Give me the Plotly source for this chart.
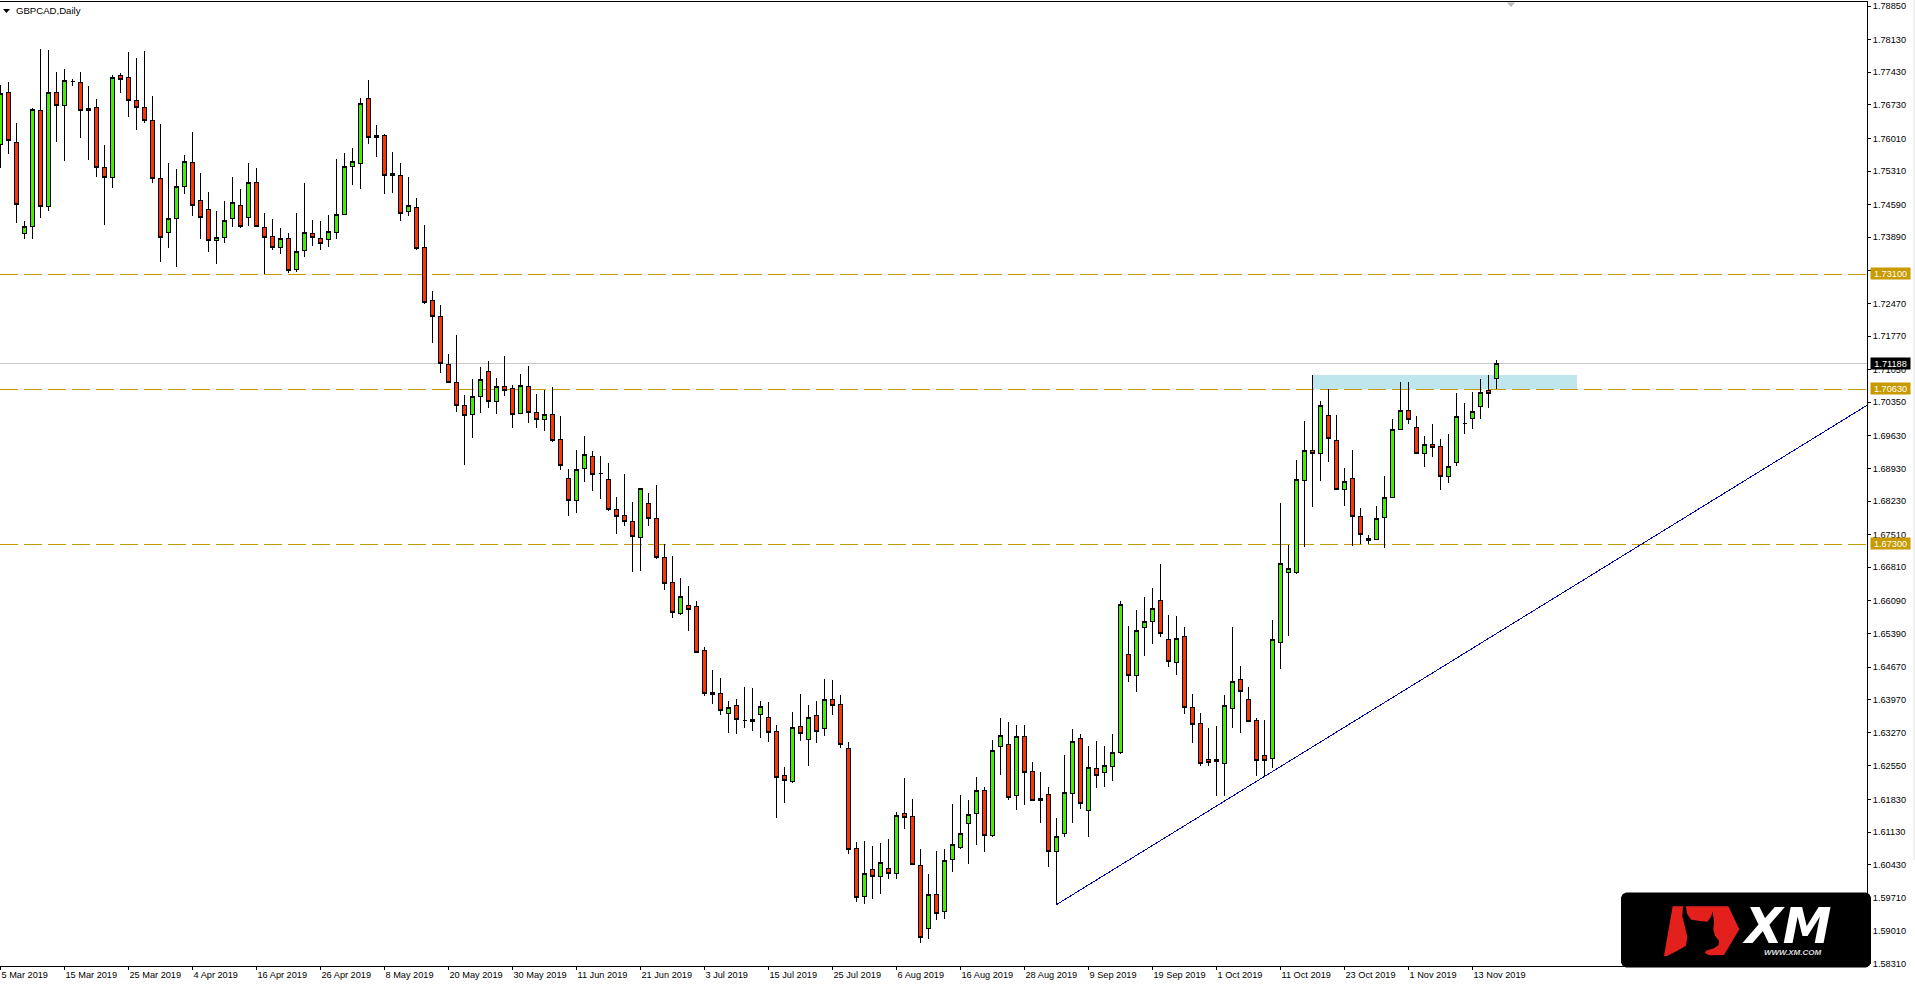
import plotly.graph_objects as go

open_ = [1.75883,1.76998,1.75926,1.73974,1.74124,1.76612,1.74553,1.76998,1.76720,1.77220,1.77213,1.76612,1.76677,1.75390,1.75175,1.77363,1.77320,1.76827,1.76677,1.76398,
1.75154,1.73995,1.74296,1.74982,1.75497,1.74682,1.74489,1.73824,1.73888,1.74296,1.74575,1.74317,1.75068,1.74103,1.73910,1.73674,1.73867,1.73202,1.73609,1.73974,
1.73867,1.73845,1.73995,1.74382,1.75411,1.75475,1.76870,1.76026,1.76076,1.75261,1.75218,1.74446,1.74532,1.73674,1.72537,1.72194,1.71164,1.70778,1.70285,1.70092,
1.70478,1.71014,1.70370,1.70692,1.70649,1.70113,1.70692,1.70134,1.69984,1.70092,1.69555,1.68719,1.68247,1.68933,1.69191,1.68819,1.68697,1.68054,1.67925,1.67796,
1.67453,1.68182,1.67861,1.67024,1.66488,1.65823,1.65995,1.65973,1.65015,1.64086,1.64107,1.63678,1.63850,1.63528,1.63506,1.63657,1.63592,1.63292,1.62348,1.62219,
1.63399,1.63120,1.63635,1.63356,1.63978,1.63871,1.62927,1.60782,1.59753,1.60332,1.60182,1.60353,1.60246,1.61533,1.61469,1.60418,1.59066,1.59796,1.59431,1.60546,
1.60804,1.61318,1.61533,1.62026,1.61061,1.62970,1.63013,1.61919,1.63185,1.62434,1.61812,1.61941,1.60718,1.61104,1.61962,1.63142,1.61597,1.62498,1.62412,1.62541,
1.62834,1.64944,1.64493,1.65523,1.65651,1.66102,1.65265,1.64772,1.65330,1.63807,1.63463,1.62691,1.62691,1.62605,1.63785,1.64407,1.63978,1.63528,1.62777,1.62713,
1.65201,1.66702,1.66702,1.68676,1.69319,1.69255,1.70070,1.69534,1.68483,1.68719,1.67904,1.67389,1.67410,1.67882,1.68311,1.69770,1.70177,1.69813,1.69255,1.69448,
1.69405,1.68762,1.69062,1.69884,1.70006,1.70263,1.70606,1.70864]
high = [1.77156,1.77213,1.76333,1.74239,1.76662,1.77921,1.77899,1.77435,1.77499,1.77277,1.77435,1.77127,1.76855,1.75862,1.77363,1.77406,1.77864,1.77728,1.77878,1.76913,
1.76312,1.75475,1.75347,1.75647,1.76140,1.75261,1.74853,1.74446,1.74660,1.75175,1.74918,1.75475,1.75368,1.74403,1.74274,1.74081,1.73974,1.74403,1.75046,1.74253,
1.74231,1.74360,1.75561,1.75690,1.75797,1.76870,1.77256,1.76291,1.76098,1.75711,1.75475,1.75175,1.74725,1.74146,1.72730,1.72430,1.71379,1.71786,1.70499,1.70842,
1.71100,1.71228,1.70864,1.71336,1.70714,1.70950,1.71121,1.70521,1.70613,1.70671,1.70049,1.68912,1.69319,1.69620,1.69298,1.69191,1.69040,1.68311,1.68805,1.68204,
1.68504,1.68397,1.68569,1.67303,1.67046,1.66574,1.66402,1.66080,1.65101,1.64607,1.64429,1.63935,1.63978,1.64236,1.64214,1.63935,1.63914,1.63421,1.62520,1.63699,
1.64086,1.63850,1.63935,1.64407,1.64386,1.64064,1.63056,1.60911,1.60932,1.60825,1.60889,1.60975,1.61554,1.62284,1.61833,1.60761,1.60225,1.60718,1.60761,1.61726,
1.61919,1.61812,1.62305,1.62091,1.63099,1.63571,1.63485,1.63421,1.63421,1.62627,1.62412,1.62091,1.61426,1.62777,1.63335,1.63228,1.62970,1.63077,1.62970,1.63228,
1.66080,1.65551,1.65887,1.66166,1.66359,1.66874,1.65780,1.65759,1.65523,1.64086,1.63678,1.63356,1.63399,1.64064,1.65523,1.64686,1.64236,1.63571,1.63528,1.65673,
1.68182,1.67282,1.69105,1.69941,1.70928,1.70370,1.70628,1.70070,1.68933,1.69319,1.68075,1.67496,1.68118,1.68762,1.69984,1.70778,1.70778,1.70049,1.69620,1.69877,
1.69555,1.69663,1.70542,1.70327,1.70563,1.70842,1.70928,1.71250]
low = [1.75383,1.75683,1.74203,1.73860,1.73860,1.74310,1.74460,1.75940,1.75533,1.77134,1.76026,1.75554,1.75189,1.74160,1.74954,1.76991,1.76462,1.76198,1.76348,1.75061,
1.73366,1.73667,1.73259,1.74818,1.74353,1.73860,1.73581,1.73323,1.73774,1.74117,1.74096,1.74138,1.74117,1.73095,1.73624,1.73538,1.73130,1.73152,1.73473,1.73709,
1.73624,1.73688,1.73860,1.74375,1.75011,1.74932,1.75897,1.75618,1.74825,1.74832,1.74246,1.74353,1.73624,1.72451,1.71614,1.70985,1.70778,1.70149,1.69012,1.69591,
1.70127,1.70235,1.70106,1.70492,1.69806,1.70113,1.69913,1.69806,1.69741,1.69505,1.68905,1.67918,1.67982,1.68647,1.68454,1.68283,1.68025,1.67532,1.67703,1.66717,
1.66738,1.67703,1.66981,1.66331,1.65730,1.65780,1.65451,1.64986,1.64057,1.63885,1.63635,1.63263,1.63242,1.63371,1.63306,1.63156,1.63070,1.61440,1.61762,1.62176,
1.63092,1.62555,1.63049,1.63199,1.63649,1.62942,1.60668,1.59624,1.59581,1.59688,1.59796,1.60117,1.60117,1.61204,1.60418,1.58744,1.58830,1.59238,1.59259,1.60267,
1.60761,1.60439,1.60847,1.60696,1.61018,1.62348,1.61812,1.61597,1.61705,1.61790,1.61318,1.60389,1.59574,1.61018,1.61333,1.61633,1.61032,1.62084,1.62105,1.62234,
1.62813,1.64357,1.64143,1.64915,1.65172,1.65322,1.64679,1.64507,1.63671,1.63049,1.62555,1.62555,1.61912,1.61912,1.63371,1.63263,1.63506,1.62341,1.62305,1.62513,
1.64636,1.65344,1.66674,1.67253,1.68111,1.68669,1.69076,1.68483,1.68132,1.67274,1.67303,1.67303,1.67389,1.67232,1.68311,1.69748,1.69877,1.69255,1.68969,1.69169,
1.68476,1.68626,1.68990,1.69677,1.69784,1.69999,1.70235,1.70628]
close = [1.76977,1.75969,1.74596,1.74117,1.76634,1.74553,1.76998,1.76720,1.77256,1.77220,1.76612,1.76655,1.75390,1.75175,1.77320,1.77277,1.76827,1.76677,1.76398,1.75154,
1.73888,1.74296,1.74982,1.75518,1.74575,1.74310,1.73824,1.73888,1.74253,1.74639,1.74117,1.75068,1.74124,1.73888,1.73674,1.73867,1.73180,1.73588,1.73995,1.73888,
1.73759,1.74017,1.74382,1.75411,1.75518,1.76762,1.76026,1.76076,1.75218,1.75218,1.74403,1.74575,1.73652,1.72494,1.72194,1.71185,1.70778,1.70285,1.70070,1.70478,
1.70842,1.70370,1.70692,1.70606,1.70092,1.70714,1.70134,1.69984,1.70092,1.69534,1.68998,1.68247,1.68912,1.69234,1.68805,1.68819,1.68054,1.67904,1.67796,1.67475,
1.68504,1.67861,1.67024,1.66466,1.65844,1.66188,1.65909,1.64986,1.64107,1.64128,1.63742,1.63807,1.63549,1.63528,1.63549,1.63828,1.63270,1.62305,1.62241,1.63378,
1.63249,1.63592,1.63292,1.63978,1.63850,1.63013,1.60761,1.59731,1.60246,1.60182,1.60482,1.60246,1.61490,1.61447,1.60439,1.58873,1.59796,1.59388,1.60525,1.60868,
1.61104,1.61512,1.62026,1.61061,1.62884,1.63206,1.61876,1.63185,1.62412,1.61812,1.61855,1.60718,1.61040,1.61983,1.63077,1.61747,1.62520,1.62348,1.62563,1.62841,
1.66016,1.64493,1.65458,1.65651,1.65930,1.65394,1.64793,1.65287,1.63807,1.63442,1.62605,1.62627,1.62648,1.63850,1.64364,1.64150,1.63506,1.62670,1.62670,1.65265,
1.66895,1.66788,1.68697,1.69319,1.69255,1.70285,1.69577,1.68483,1.68654,1.67904,1.67518,1.67432,1.67861,1.68311,1.69770,1.70177,1.69984,1.69255,1.69448,1.69384,
1.68762,1.68976,1.70049,1.69884,1.70156,1.70563,1.70542,1.71188]

date_labels = ["5 Mar 2019","15 Mar 2019","25 Mar 2019","4 Apr 2019","16 Apr 2019","26 Apr 2019","8 May 2019","20 May 2019",
               "30 May 2019","11 Jun 2019","21 Jun 2019","3 Jul 2019","15 Jul 2019","25 Jul 2019","6 Aug 2019","16 Aug 2019",
               "28 Aug 2019","9 Sep 2019","19 Sep 2019","1 Oct 2019","11 Oct 2019","23 Oct 2019","1 Nov 2019","13 Nov 2019"]
price_ticks = [1.78850,1.78130,1.77430,1.76730,1.76010,1.75310,1.74590,1.73890,1.73170,1.72470,1.71770,1.71050,1.70350,1.69630,1.68930,
               1.68230,1.67510,1.66810,1.66090,1.65390,1.64670,1.63970,1.63270,1.62550,1.61830,1.61130,1.60430,1.59710,1.59010,1.58310]
levels = [1.73100, 1.70630, 1.67300]
last_price = 1.71188
zone_bars = [164, 197]
zone_prices = [1.70630, 1.70928]
trend_bars = [132, 233.32]
trend_prices = [1.59574, 1.70285]

W, H = 1915, 986
L, R, T, B = 0, 1867, 2, 966
FONT = "Liberation Sans"
GOLD = "#C79A00"

def px(x):
    return x / R
def py(y):
    return 1 - (y - T) / (B - T)

price_per_px = (1.78850 - 1.58310) / (963.5 - 6)
ymax = 1.78850 + (6 - T) * price_per_px
ymin = 1.58310 - (B - 963.5) * price_per_px
xmin = -0.5 / 8
xmax = (R - 0.5) / 8

n = len(open_)
fig = go.Figure()
fig.add_trace(go.Candlestick(
    x=list(range(n)), open=open_, high=high, low=low, close=close,
    whiskerwidth=0,
    increasing=dict(fillcolor="#44EE00", line=dict(color="#000000", width=1)),
    decreasing=dict(fillcolor="#F83800", line=dict(color="#000000", width=1)),
    showlegend=False,
))
fig.add_trace(go.Scatter(x=trend_bars, y=trend_prices, mode="lines",
                         line=dict(color="#0000A8", width=1), showlegend=False, hoverinfo="skip"))

shapes = [dict(type="rect", xref="x", yref="y", x0=zone_bars[0], x1=zone_bars[1], y0=zone_prices[0], y1=zone_prices[1],
               fillcolor="#BEE6EC", line=dict(width=0), layer="below"),
          dict(type="line", xref="paper", yref="y", x0=0, x1=1, y0=last_price, y1=last_price,
               line=dict(color="#C8C8C8", width=1), layer="below")]
for lv in levels:
    shapes.append(dict(type="line", xref="paper", yref="y", x0=0, x1=1, y0=lv, y1=lv,
                       line=dict(color=GOLD, width=1, dash="18px,6px"), layer="below"))

def poly(points, ox, oy, scale=1/3):
    parts = []
    for i, (a, b) in enumerate(points):
        parts.append(("M" if i == 0 else "L") + f"{px(ox + a * scale):.5f},{py(oy + b * scale):.5f}")
    return " ".join(parts) + " Z"

def rounded(x0, y0, x1, y1, r):
    seq = [(x0 + r, y0), (x1 - r, y0), (x1 - r / 3, y0 + r / 3), (x1, y0 + r), (x1, y1 - r), (x1 - r / 3, y1 - r / 3), (x1 - r, y1),
           (x0 + r, y1), (x0 + r / 3, y1 - r / 3), (x0, y1 - r), (x0, y0 + r), (x0 + r / 3, y0 + r / 3)]
    return poly(seq, 0, 0, 1)

def deco(path, color):
    return dict(type="path", xref="paper", yref="paper", path=path, fillcolor=color, line=dict(width=0), layer="above")

shapes += [
    deco(poly([(3, 9), (10, 9), (6.5, 13)], 0, 0, 1), "#000000"),
    deco(poly([(1507, 2.5), (1515, 2.5), (1511, 7)], 0, 0, 1), "#B8B8B8"),
    dict(type="rect", xref="paper", yref="paper", x0=px(1913), x1=px(1915), y0=py(0), y1=py(860),
         fillcolor="#F0F0F0", line=dict(width=0), layer="above"),
    deco(rounded(1621, 892.5, 1871, 967.5, 5), "#000000"),
    deco(poly([(68, 34), (235, 34), (268, 103), (222, 180), (42, 183)], 1650, 895), "#E4201C"),
    deco(poly([(99, 33), (107, 33), (112, 58), (124, 74), (150, 78), (172, 80), (183, 65), (188, 50), (192, 80), (190, 105),
               (195, 122), (207, 137), (206, 150), (192, 160), (168, 167), (165, 174), (183, 184), (45, 186), (82, 167),
               (108, 152), (112, 125), (105, 95), (97, 65)], 1650, 895), "#000000"),
]

def tag(price, text, bg, shift):
    return dict(xref="paper", yref="y", x=px(1870), y=price, xanchor="left", yanchor="middle", yshift=shift,
                text=text, showarrow=False, width=39, height=11, bgcolor=bg, borderpad=0, align="center",
                font=dict(family=FONT, size=9.2, color="#FFFFFF"))

annotations = [tag(lv, f"{lv:.5f}", GOLD, 1) for lv in levels]
annotations.append(tag(last_price, f"{last_price:.5f}", "#000000", 0))
annotations += [
    dict(xref="paper", yref="paper", x=px(14), y=py(10.5), xanchor="left", yanchor="middle", text="GBPCAD,Daily",
         showarrow=False, font=dict(family=FONT, size=9.6, color="#000000")),
    dict(xref="paper", yref="paper", x=px(1786.5), y=py(926), xanchor="center", yanchor="middle", text="XM",
         showarrow=False, font=dict(family="DejaVu Sans", size=49, color="#FFFFFF", weight=700, style="italic")),
    dict(xref="paper", yref="paper", x=px(1792.5), y=py(952.7), xanchor="center", yanchor="middle", text="WWW.XM.COM",
         showarrow=False, font=dict(family=FONT, size=8, color="#DDDDDD", weight=700, style="italic")),
]

axis_font = dict(family=FONT, size=9.2, color="#000000")
fig.update_layout(
    width=W, height=H, autosize=False,
    margin=dict(l=L, r=W - R, t=T, b=H - B, pad=0),
    paper_bgcolor="#FFFFFF", plot_bgcolor="#FFFFFF",
    boxgap=0.5, boxgroupgap=0, hovermode=False, showlegend=False,
    shapes=shapes, annotations=annotations,
    xaxis=dict(type="linear", range=[xmin, xmax], rangeslider=dict(visible=False),
               tickmode="array", tickvals=[8 * i for i in range(len(date_labels))], ticktext=date_labels,
               tickangle=0, ticks="outside", ticklen=3, tickwidth=1, tickcolor="#000000", ticklabelposition="outside right",
               showline=True, linecolor="#000000", linewidth=1, mirror=True, showgrid=False, zeroline=False, tickfont=axis_font),
    yaxis=dict(side="right", range=[ymin, ymax], tickmode="array", tickvals=price_ticks,
               ticktext=[f"{v:.5f}" for v in price_ticks], ticks="outside", ticklen=3, tickwidth=1, tickcolor="#000000",
               showline=True, linecolor="#000000", linewidth=1, showgrid=False, zeroline=False, tickfont=axis_font),
)
script = ("document.body.style.margin='0';document.body.style.overflow='hidden';"
          "var s=document.createElement('style');"
          "s.textContent='.cartesianlayer path,.layer-below path{shape-rendering:crispEdges !important}';"
          "document.head.appendChild(s);")
fig.write_html("out.html", config=dict(displayModeBar=False), post_script=script)
